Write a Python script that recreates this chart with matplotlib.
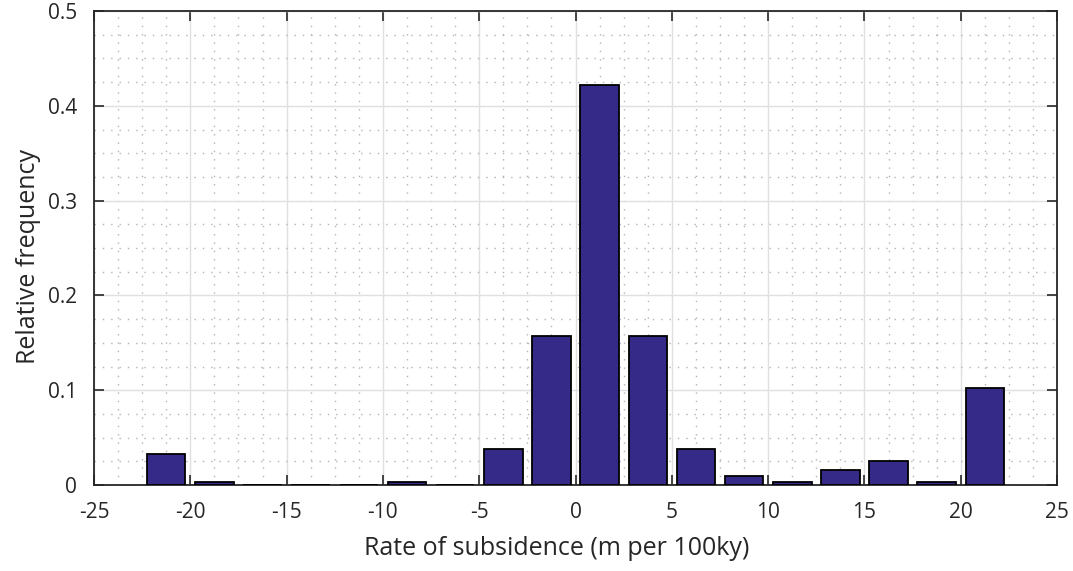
import numpy as np
import matplotlib
matplotlib.use("Agg")
import matplotlib.pyplot as plt
from matplotlib.ticker import MultipleLocator

plt.rcParams['font.family'] = ['Open Sans', 'DejaVu Sans']

# bin centres (m per 100ky) and relative frequency
centres = [-21.25, -18.75, -16.25, -13.75, -11.25, -8.75, -6.25, -3.75, -1.25,
           1.25, 3.75, 6.25, 8.75, 11.25, 13.75, 16.25, 18.75, 21.25]
freq = [0.033, 0.003, 0.0, 0.0, 0.0, 0.003, 0.0, 0.038, 0.157,
        0.422, 0.157, 0.038, 0.010, 0.003, 0.016, 0.025, 0.003, 0.102]

xticks = [-25, -20, -15, -10, -5, 0, 5, 10, 15, 20, 25]
yticks = [0, 0.1, 0.2, 0.3, 0.4, 0.5]
ytick_labels = ['0', '0.1', '0.2', '0.3', '0.4', '0.5']

fig = plt.figure(figsize=(10.73, 5.71), dpi=100)
ax = fig.add_axes([0.0876, 0.1506, 0.8976, 0.8301])

ax.bar(centres, freq, width=2.0, color='#352a87', edgecolor='black',
       linewidth=1.3, zorder=3)

ax.set_xlim(-25, 25)
ax.set_ylim(0, 0.5)
ax.set_xticks(xticks)
ax.set_xticklabels([str(t) for t in xticks])
ax.set_yticks(yticks)
ax.set_yticklabels(ytick_labels)
ax.xaxis.set_minor_locator(MultipleLocator(1.25))
ax.yaxis.set_minor_locator(MultipleLocator(0.025))

ax.grid(which='major', color='#e0e0e0', linewidth=1.0, linestyle='-', zorder=0)
ax.grid(which='minor', color='#b4b4b4', linewidth=1.0, linestyle=(0, (1, 5)), zorder=0)
ax.set_axisbelow(True)

ax.tick_params(which='major', direction='in', length=7, width=1.2,
               top=True, right=True, labelsize=15, colors='#262626')
ax.tick_params(axis='y', pad=12)
ax.tick_params(axis='x', pad=12.5)
ax.tick_params(which='minor', length=0, top=True, right=True)
for s in ax.spines.values():
    s.set_linewidth(1.3)
    s.set_color('#262626')

ax.set_xlabel('Rate of subsidence (m per 100ky)', fontsize=18, color='#262626')
ax.set_ylabel('Relative frequency', fontsize=18, color='#262626')
ax.xaxis.set_label_coords(0.48, -0.108)
ax.yaxis.set_label_coords(-0.055, 0.482)

fig.savefig('out.png', dpi=100)
